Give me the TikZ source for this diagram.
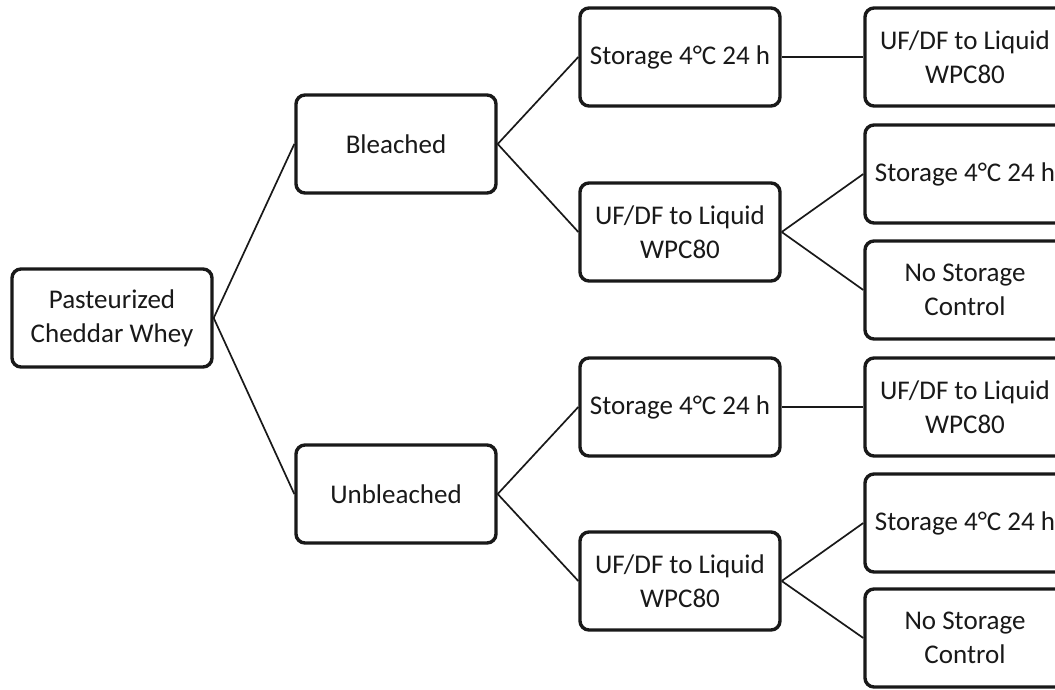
\documentclass[tikz,border=0pt]{standalone}
\usepackage{fontspec}
\setmainfont{Carlito}
\usetikzlibrary{positioning}
\tikzset{
    stage/.style={draw=black!90, line width=3.4pt, rounded corners=9pt,
        minimum width=200pt, minimum height=98pt, align=center,
        font=\fontsize{27}{34}\selectfont, text=black!90, fill=white},
    link/.style={line width=1.7pt, draw=black!90},
}

\begin{document}
\begin{tikzpicture}[x=1pt,y=-1pt]
\useasboundingbox (0,0) rectangle (1055,690);
\clip (0,0) rectangle (1055,690);
% first two levels
\node[stage] (whey) at (112,318) {Pasteurized\\Cheddar Whey};
\node[stage] (bl) at (396,144) {Bleached};
\node[stage] (ub) at (396,494) {Unbleached};
% bleached branch
\node[stage] (blsto) at (680,57) {Storage 4°C 24 h};
\node[stage] (bluf) at (680,232) {UF/DF to Liquid\\WPC80};
\node[stage] (blstouf) at (965,57) {UF/DF to Liquid\\WPC80};
\node[stage] (blufsto) at (965,174) {Storage 4°C 24 h};
\node[stage] (blufctl) at (965,290) {No Storage\\Control};
% unbleached branch
\node[stage] (ubsto) at (680,407) {Storage 4°C 24 h};
\node[stage] (ubuf) at (680,581) {UF/DF to Liquid\\WPC80};
\node[stage] (ubstouf) at (965,407) {UF/DF to Liquid\\WPC80};
\node[stage] (ubufsto) at (965,523) {Storage 4°C 24 h};
\node[stage] (ubufctl) at (965,638) {No Storage\\Control};
% connectors
\draw[link] (whey.east) -- (bl.west) (whey.east) -- (ub.west);
\draw[link] (bl.east) -- (blsto.west) (bl.east) -- (bluf.west);
\draw[link] (ub.east) -- (ubsto.west) (ub.east) -- (ubuf.west);
\draw[link] (blsto.east) -- (blstouf.west);
\draw[link] (ubsto.east) -- (ubstouf.west);
\draw[link] (bluf.east) -- (blufsto.west) (bluf.east) -- (blufctl.west);
\draw[link] (ubuf.east) -- (ubufsto.west) (ubuf.east) -- (ubufctl.west);
\end{tikzpicture}
\end{document}
